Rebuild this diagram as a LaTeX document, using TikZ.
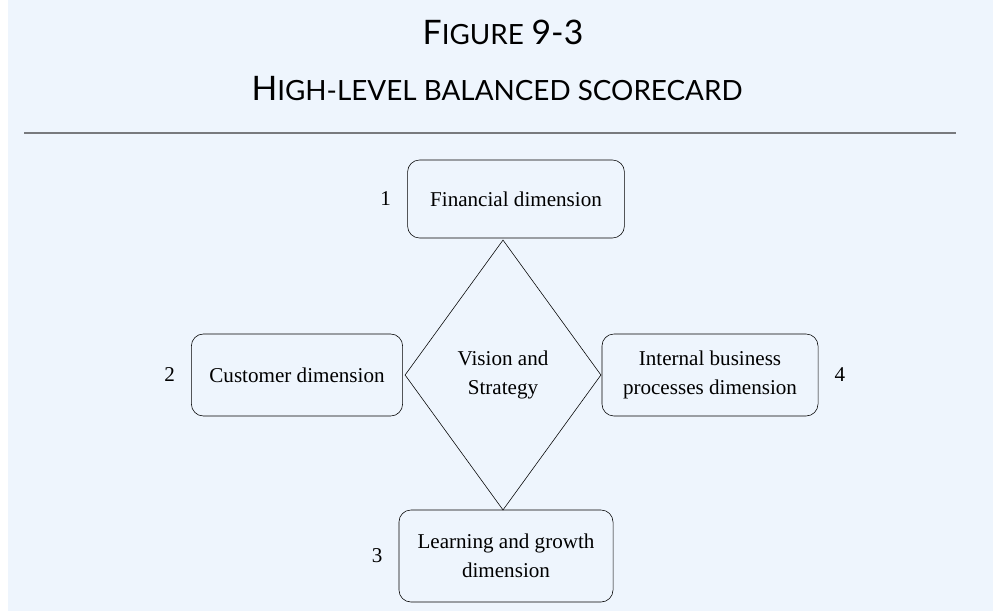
\documentclass[tikz,border=0pt]{standalone}
\usepackage{fontspec}
\setmainfont{Liberation Serif}
\newfontfamily\capsfont{Lato}
\usetikzlibrary{shapes.geometric,positioning}
\definecolor{panelblue}{RGB}{238,245,253}
\definecolor{rulegray}{RGB}{120,122,126}
% fake small caps: large first letter, smaller rest
\newcommand{\bigsc}[2]{{\fontsize{24}{28}\selectfont #1}{\fontsize{19.8}{24}\selectfont #2}}
\tikzset{
  dimbox/.style={draw,rounded corners=0.3cm,align=center,inner sep=0pt,
    font=\fontsize{15}{21}\selectfont},
  dimnum/.style={inner sep=0pt,font=\fontsize{15}{21}\selectfont},
  captitle/.style={anchor=base,inner sep=0pt,font=\capsfont}
}
\begin{document}
\begin{tikzpicture}[x=0.025cm,y=-0.025cm,node distance=0.4cm]
  \useasboundingbox (0,0) rectangle (993,611);
  \fill[panelblue] (8,0) rectangle (993,611);
  \node[captitle] (fig) at (503,45) {\bigsc{F}{IGURE}\hspace{0.55em}{\fontsize{24}{28}\selectfont 9-3}};
  \node[captitle] (title) at (497,100) {\bigsc{H}{IGH-LEVEL BALANCED SCORECARD}};
  \draw[rulegray,line width=1.2pt] (24,133) -- (956,133);
  % centre
  \node[draw,diamond,inner sep=0pt,minimum width=4.9cm,minimum height=6.75cm,
    align=center,font=\fontsize{15}{21}\selectfont] (vision) at (503,375) {Vision and\\Strategy};
  % the four dimensions
  \node[dimbox,minimum width=5.42cm,minimum height=1.95cm] (fin) at (516,199) {Financial dimension};
  \node[dimbox,minimum width=5.28cm,minimum height=2.05cm] (cust) at (297,375) {Customer dimension};
  \node[dimbox,minimum width=5.4cm,minimum height=2.05cm] (proc) at (710,375) {Internal business\\processes dimension};
  \node[dimbox,minimum width=5.35cm,minimum height=2.3cm] (learn) at (506,556) {Learning and growth\\dimension};
  \node[dimnum,left=of fin] (n1) {1};
  \node[dimnum,left=of cust] (n2) {2};
  \node[dimnum,left=of learn] (n3) {3};
  \node[dimnum,right=of proc] (n4) {4};
\end{tikzpicture}
\end{document}
